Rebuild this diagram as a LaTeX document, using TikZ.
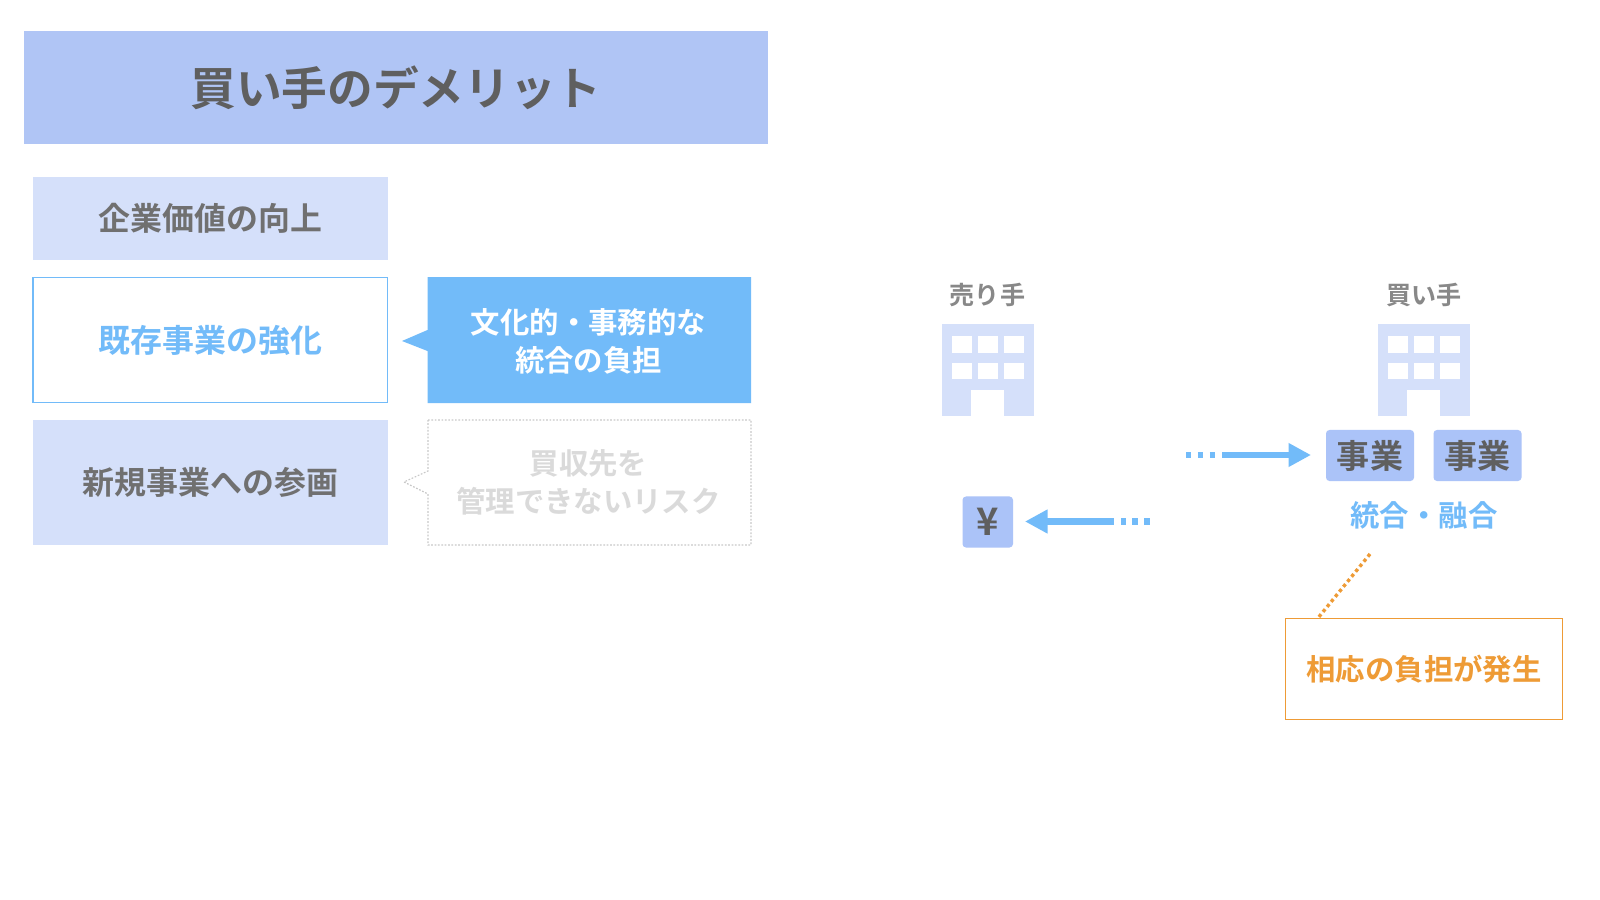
\documentclass[tikz,border=0pt]{standalone}
\usepackage{fontspec}
\setmainfont{Noto Sans CJK JP}[BoldFont={Noto Sans CJK JP Bold}]
\usetikzlibrary{arrows.meta}
\definecolor{titlefill}{HTML}{B0C5F5}
\definecolor{lightfill}{HTML}{D5E0FA}
\definecolor{skyblue}{HTML}{72BBF9}
\definecolor{chipfill}{HTML}{ABC3F8}
\definecolor{darktext}{HTML}{5F5F5F}
\definecolor{midtext}{HTML}{707070}
\definecolor{labeltext}{HTML}{888888}
\definecolor{fainttext}{HTML}{DADADA}
\definecolor{fadeline}{HTML}{C8C8C8}
\definecolor{orangeink}{HTML}{EE9B36}
\newcommand{\pxbox}[7]{%
  \pgfmathsetmacro\cxv{(#2+#4)/2}\pgfmathsetmacro\cyv{(#3+#5)/2}%
  \pgfmathsetmacro\wv{(#4-#2)*0.7113}\pgfmathsetmacro\hv{(#5-#3)*0.7113}%
  \node[boxbase,#6,minimum width=\wv pt,minimum height=\hv pt] (#1) at (\cxv,\cyv) {#7};}
\newcommand{\building}[2]{%
  \begin{scope}[shift={(#1,324)}]
    \fill[lightfill] (0,0) rectangle (#2,92);
    \foreach \wx in {0,26,52}{
      \fill[white] (9.5+\wx,12) rectangle (29.5+\wx,28.5);
      \fill[white] (9.5+\wx,38.5) rectangle (29.5+\wx,55);
    }
    \fill[white] (29,66) rectangle (62,92);
  \end{scope}}
\tikzset{
  x=0.025cm,y=-0.025cm,
  boxbase/.style={inner sep=0pt,outer sep=0pt,align=center,font=\bfseries},
  leftfont/.style={font=\bfseries\fontsize{22.7}{27}\selectfont},
  twofont/.style={font=\bfseries\fontsize{20.9}{27}\selectfont},
  shaft/.style={draw=skyblue,line width=4.4pt},
  dots/.style={draw=skyblue,line width=4.4pt,dash pattern=on 3.6pt off 4.9pt},
  tip/.style={-{Triangle[length=16pt,width=16pt]}},
}
\begin{document}
\begin{tikzpicture}
\useasboundingbox[fill=white] (0,0) rectangle (1600,900);
% left panel
\pxbox{title}{24.5}{31.5}{767.5}{143.5}{fill=titlefill,text=darktext,font=\bfseries\fontsize{32.5}{40}\selectfont}{買い手のデメリット}
\pxbox{corp}{33}{177.5}{387.5}{259.5}{fill=lightfill,text=midtext,leftfont}{企業価値の向上}
\pxbox{exist}{33}{277.5}{387.5}{402.5}{draw=skyblue,line width=1.2pt,fill=white,text=skyblue,leftfont}{既存事業の強化}
\pxbox{newbiz}{33}{420.5}{387.5}{544.5}{fill=lightfill,text=midtext,leftfont}{新規事業への参画}
% callouts
\fill[skyblue] (427.5,277) -- (751,277) -- (751,403) -- (427.5,403) -- (427.5,351) -- (402,341) -- (427.5,330) -- cycle;
\node[boxbase,text=white,twofont] (burden) at (588.5,341) {文化的・事務的な\\統合の負担};
\draw[fadeline,line width=0.8pt,dash pattern=on 1.2pt off 1.2pt] (428,420) -- (751,420) -- (751,545) -- (428,545) -- (428,494) -- (404,482) -- (428,471) -- cycle;
\node[boxbase,text=fainttext,twofont] (risk) at (588.5,482.5) {買収先を\\管理できないリスク};
% seller
\node[boxbase,text=labeltext,font=\bfseries\fontsize{17.8}{20}\selectfont] (sellerlabel) at (987.5,295) {売り手};
\building{942}{92}
\pxbox{yen}{962.5}{496.5}{1013}{547.5}{fill=chipfill,rounded corners=2.5pt,text=darktext,font=\bfseries\fontsize{27}{30}\selectfont}{¥}
% buyer
\node[boxbase,text=labeltext,font=\bfseries\fontsize{17.8}{20}\selectfont] (buyerlabel) at (1424,295) {買い手};
\building{1378}{92}
\pxbox{bizA}{1326}{430}{1414}{481}{fill=chipfill,rounded corners=2.5pt,text=darktext,font=\bfseries\fontsize{23.5}{28}\selectfont}{事業}
\pxbox{bizB}{1433.5}{430}{1521.5}{481}{fill=chipfill,rounded corners=2.5pt,text=darktext,font=\bfseries\fontsize{23.5}{28}\selectfont}{事業}
\node[boxbase,text=skyblue,twofont] (merge) at (1424,515) {統合・融合};
\pxbox{cost}{1285.5}{618.5}{1562.5}{719.5}{draw=orangeink,line width=1.2pt,fill=white,text=orangeink,twofont}{相応の負担が発生}
% arrows
\coordinate (topdotA) at (1186,455);
\coordinate (topdotB) at (1218,455);
\coordinate (topstart) at (1222,455);
\coordinate (toptip) at (1311,455);
\coordinate (lowdotA) at (1149.5,521.5);
\coordinate (lowdotB) at (1119,521.5);
\coordinate (lowstart) at (1113.5,521.5);
\coordinate (lowtip) at (1025,521.5);
\draw[dots] (topdotA) -- (topdotB);
\draw[shaft,tip] (topstart) -- (toptip);
\draw[dots] (lowdotA) -- (lowdotB);
\draw[shaft,tip] (lowstart) -- (lowtip);
% leader
\coordinate (leaderfree) at (1370,554);
\coordinate (leaderend) at (1318,618);
\draw[orangeink,line width=2.4pt,dash pattern=on 2.4pt off 2.2pt] (leaderfree) -- (leaderend);
\end{tikzpicture}
\end{document}
